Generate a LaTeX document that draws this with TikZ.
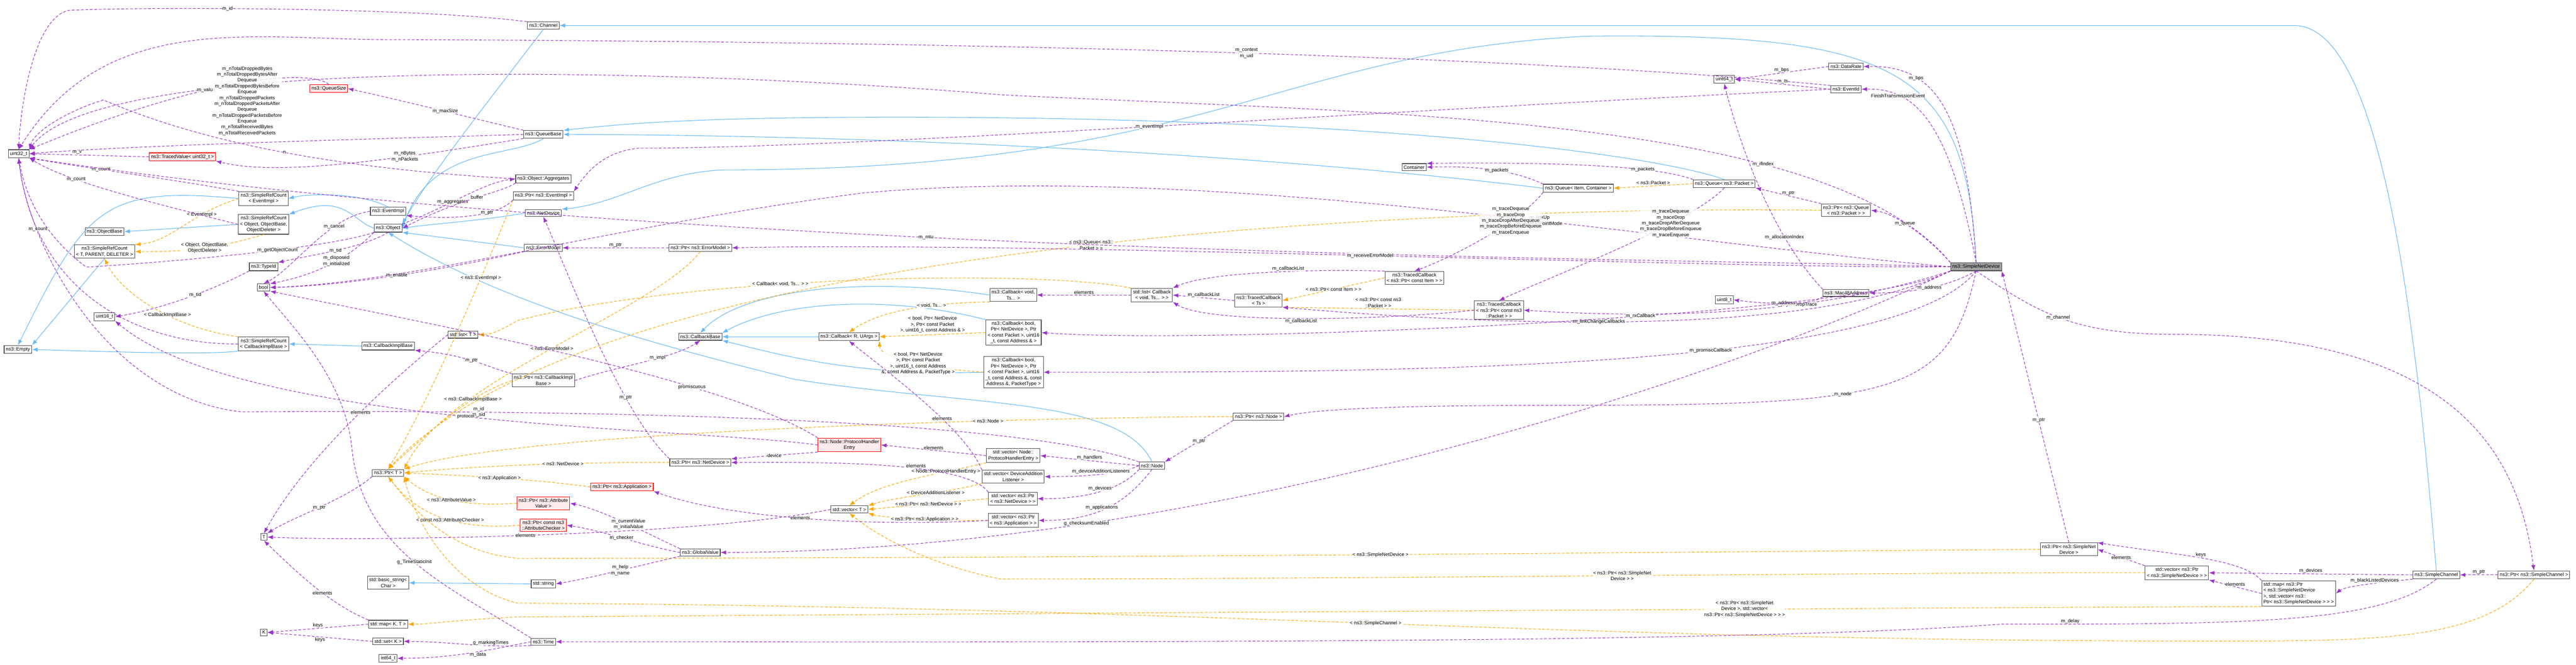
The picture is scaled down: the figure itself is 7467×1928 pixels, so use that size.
\documentclass[tikz,border=0pt]{standalone}
\usepackage{fontspec}
\setmainfont{Liberation Sans}
\usetikzlibrary{arrows.meta}
\definecolor{inhc}{HTML}{63B8FF}
\definecolor{memc}{HTML}{9A32CD}
\definecolor{tplc}{HTML}{FFA500}
\begin{document}
\begin{tikzpicture}[x=1pt,y=-1pt,
  box/.style={draw=gray!60!black,line width=1.6pt,fill=white,align=center,inner sep=5pt,font=\fontsize{14}{17}\selectfont},
  redbox/.style={box,draw=red,fill=red!8},
  mainbox/.style={box,fill=gray!75},
  lbl/.style={font=\fontsize{14}{17}\selectfont,align=center,fill=white,fill opacity=0.8,text opacity=1,inner sep=1pt},
  inh/.style={draw=inhc,line width=1.6pt,-{Latex[length=16pt,width=12pt]}},
  mem/.style={draw=memc,line width=1.6pt,dash pattern=on 8pt off 5pt,-{Latex[length=16pt,width=12pt]}},
  tpl/.style={draw=tplc,line width=1.6pt,dash pattern=on 8pt off 5pt,-{Latex[length=16pt,width=12pt]}}]
\useasboundingbox (0,0) rectangle (7467,1928);
% nodes
\node[box] (u32) at (54,446) {uint32\_t};
\node[redbox] (tv) at (529,455) {ns3::TracedValue< uint32\_t >};
\node[redbox] (qs) at (953,257) {ns3::QueueSize};
\node[box] (srcE) at (764,576) {ns3::SimpleRefCount\\< EventImpl >};
\node[box] (evimpl) at (1125,613) {ns3::EventImpl};
\node[box] (srcO) at (764,651) {ns3::SimpleRefCount\\< Object, ObjectBase,\\ObjectDeleter >};
\node[box] (objbase) at (303,672) {ns3::ObjectBase};
\node[box] (obj) at (1125,662) {ns3::Object};
\node[box] (srcT) at (303,730) {ns3::SimpleRefCount\\< T, PARENT, DELETER >};
\node[box] (typeid) at (764,774) {ns3::TypeId};
\node[box] (bool) at (764,834) {bool};
\node[box] (u16) at (303,919) {uint16\_t};
\node[box] (empty) at (52,1014) {ns3::Empty};
\node[box] (srcC) at (764,998) {ns3::SimpleRefCount\\< CallbackImplBase >};
\node[box] (cib) at (1125,1004) {ns3::CallbackImplBase};
\node[box] (ptrT) at (1125,1372) {ns3::Ptr< T >};
\node[box] (T) at (765,1558) {T};
\node[box] (bstr) at (1125,1691) {std::basic\_string<\\Char >};
\node[box] (mapKT) at (1125,1811) {std::map< K, T >};
\node[box] (K) at (765,1835) {K};
\node[box] (setK) at (1125,1861) {std::set< K >};
\node[box] (i64) at (1125,1910) {int64\_t};
\node[box] (chan) at (1575,74) {ns3::Channel};
\node[box] (qbase) at (1575,390) {ns3::QueueBase};
\node[box] (aggr) at (1575,519) {ns3::Object::Aggregates};
\node[box] (ptrEv) at (1575,568) {ns3::Ptr< ns3::EventImpl >};
\node[box] (netdev) at (1575,618) {ns3::NetDevice};
\node[box] (errm) at (1575,719) {ns3::ErrorModel};
\node[box] (ptrErr) at (2030,719) {ns3::Ptr< ns3::ErrorModel >};
\node[box] (listT) at (1342,971) {std::list< T >};
\node[box] (cbbase) at (2030,977) {ns3::CallbackBase};
\node[box] (cbRU) at (2461,977) {ns3::Callback< R, UArgs >};
\node[box] (ptrCib) at (1575,1104) {ns3::Ptr< ns3::CallbackImpl\\Base >};
\node[redbox] (phe) at (2462,1291) {ns3::Node::ProtocolHandler\\Entry};
\node[box] (ptrND) at (2030,1342) {ns3::Ptr< ns3::NetDevice >};
\node[redbox] (ptrApp) at (1803,1413) {ns3::Ptr< ns3::Application >};
\node[redbox] (ptrAV) at (1575,1460) {ns3::Ptr< ns3::Attribute\\Value >};
\node[redbox] (ptrAC) at (1575,1524) {ns3::Ptr< const ns3\\::AttributeChecker >};
\node[box] (vecT) at (2462,1478) {std::vector< T >};
\node[box] (gv) at (2030,1603) {ns3::GlobalValue};
\node[box] (str) at (1575,1694) {std::string};
\node[box] (time) at (1575,1862) {ns3::Time};
\node[box] (cbVoid) at (2937,856) {ns3::Callback< void,\\Ts... >};
\node[box] (cbB1) at (2938,965) {ns3::Callback< bool,\\Ptr< NetDevice >, Ptr\\< const Packet >, uint16\\\_t, const Address \& >};
\node[box] (cbB2) at (2938,1080) {ns3::Callback< bool,\\Ptr< NetDevice >, Ptr\\< const Packet >, uint16\\\_t, const Address \&, const\\Address \&, PacketType >};
\node[box] (vecPHE) at (2937,1322) {std::vector< Node::\\ProtocolHandlerEntry >};
\node[box] (vecDAL) at (2937,1383) {std::vector< DeviceAddition\\Listener >};
\node[box] (vecND) at (2936,1447) {std::vector< ns3::Ptr\\< ns3::NetDevice > >};
\node[box] (vecApp) at (2937,1510) {std::vector< ns3::Ptr\\< ns3::Application > >};
\node[box] (listCb) at (3339,856) {std::list< Callback\\< void, Ts... > >};
\node[box] (tcTs) at (3648,872) {ns3::TracedCallback\\< Ts >};
\node[box] (ptrNode) at (3648,1209) {ns3::Ptr< ns3::Node >};
\node[box] (node) at (3339,1351) {ns3::Node};
\node[box] (cont) at (4099,485) {Container};
\node[box] (tcItem) at (4100,806) {ns3::TracedCallback\\< ns3::Ptr< const Item > >};
\node[box] (tcPkt) at (4345,900) {ns3::TracedCallback\\< ns3::Ptr< const ns3\\::Packet > >};
\node[box] (queueIC) at (4575,546) {ns3::Queue< Item, Container >};
\node[box] (queuePkt) at (4998,533) {ns3::Queue< ns3::Packet >};
\node[box] (u64) at (4998,230) {uint64\_t};
\node[box] (u8) at (4998,870) {uint8\_t};
\node[box] (drate) at (5351,193) {ns3::DataRate};
\node[box] (evid) at (5351,259) {ns3::EventId};
\node[box] (ptrQ) at (5351,610) {ns3::Ptr< ns3::Queue\\< ns3::Packet > >};
\node[box] (mac) at (5351,850) {ns3::Mac48Address};
\node[mainbox] (snd) at (5728,774) {ns3::SimpleNetDevice};
\node[box] (ptrSND) at (5997,1594) {ns3::Ptr< ns3::SimpleNet\\Device >};
\node[box] (vecSND) at (6310,1662) {std::vector< ns3::Ptr\\< ns3::SimpleNetDevice > >};
\node[box,align=left] (mapSND) at (6663,1722) {std::map< ns3::Ptr\\< ns3::SimpleNetDevice\\ >, std::vector< ns3::\\Ptr< ns3::SimpleNetDevice > > >};
\node[box] (sch) at (7062,1668) {ns3::SimpleChannel};
\node[box] (ptrSch) at (7345,1668) {ns3::Ptr< ns3::SimpleChannel >};
% inheritance
\draw[inh] (srcE.west) .. controls (300,540) and (250,600) .. (empty.north);
\draw[inh] (evimpl.north) .. controls (1050,560) and (900,560) .. (srcE.east);
\draw[inh] (srcO.west) -- (objbase.east);
\draw[inh] (obj.west) .. controls (1020,640) and (1000,560) .. (srcO.north east);
\draw[inh] (srcT.south) -- (empty.north east);
\draw[inh] (srcC.south west) .. controls (600,1030) and (300,1020) .. (empty.east);
\draw[inh] (cib.west) -- (srcC.east);
\draw[inh] (chan.south) .. controls (1450,250) and (1250,500) .. (obj.north east);
\draw[inh] (qbase.south) .. controls (1480,460) and (1250,420) .. (obj.east);
\draw[inh] (netdev.west) .. controls (1400,640) and (1250,650) .. (obj.east);
\draw[inh] (errm.west) -- (obj.south east);
\draw[inh] (node.north) .. controls (3250,1150) and (2800,1180) .. (2300,1100) .. controls (1900,1000) and (1450,880) .. (obj.south);
\draw[inh] (sch.north) .. controls (7000,900) and (6900,74) .. (6650,74) -- (chan.east);
\draw[inh] (snd.north) .. controls (5700,200) and (5500,95) .. (4600,105) .. controls (3700,150) and (3500,493) .. (2100,493) .. controls (1900,500) and (1800,590) .. (netdev.north east);
\draw[inh] (queueIC.west) .. controls (3600,440) and (2500,392) .. (qbase.east);
\draw[inh] (queuePkt.north) .. controls (4800,450) and (4000,340) .. (2600,340) .. controls (2000,340) and (1800,360) .. (qbase.north east);
\draw[inh] (cbRU.west) -- (cbbase.east);
\draw[inh] (cbVoid.west) .. controls (2500,800) and (2150,840) .. (cbbase.north);
\draw[inh] (cbB1.north west) .. controls (2550,850) and (2250,880) .. (cbbase.north east);
\draw[inh] (cbB2.west) .. controls (2500,1090) and (2300,1040) .. (cbbase.south east);
\draw[inh] (str.west) -- (bstr.east);
% templates
\draw[tpl] (srcE.west) .. controls (550,620) and (500,700) .. node[lbl,pos=0.3]{< EventImpl >} (srcT.north east);
\draw[tpl] (srcO.south) .. controls (600,730) and (500,730) .. node[lbl,pos=0.4]{< Object, ObjectBase,\\ObjectDeleter >} (srcT.east);
\draw[tpl] (srcC.north west) .. controls (500,950) and (350,850) .. node[lbl,pos=0.4]{< CallbackImplBase >} (srcT.south);
\draw[tpl] (ptrEv.south west) .. controls (1400,800) and (1250,1150) .. node[lbl,pos=0.3]{< ns3::EventImpl >} (ptrT.north);
\draw[tpl] (ptrErr.south) .. controls (1900,900) and (1300,1100) .. node[lbl,pos=0.5]{< ns3::ErrorModel >} (ptrT.north east);
\draw[tpl] (ptrCib.west) .. controls (1350,1150) and (1250,1250) .. node[lbl,pos=0.3]{< ns3::CallbackImplBase >} (ptrT.north);
\draw[tpl] (ptrND.west) .. controls (1700,1340) and (1400,1350) .. node[lbl,pos=0.4]{< ns3::NetDevice >} (ptrT.east);
\draw[tpl] (ptrApp.west) .. controls (1550,1390) and (1350,1380) .. node[lbl,pos=0.5]{< ns3::Application >} (ptrT.east);
\draw[tpl] (ptrAV.west) .. controls (1350,1470) and (1250,1450) .. node[lbl,pos=0.5]{< ns3::AttributeValue >} (ptrT.south east);
\draw[tpl] (ptrAC.west) .. controls (1300,1540) and (1200,1480) .. node[lbl,pos=0.4]{< const ns3::AttributeChecker >} (ptrT.south);
\draw[tpl] (ptrNode.west) .. controls (3000,1210) and (1500,1250) .. node[lbl,pos=0.3]{< ns3::Node >} (ptrT.north east);
\draw[tpl] (ptrQ.west) .. controls (4500,600) and (1800,640) .. node[lbl,pos=0.5]{< ns3::Queue< ns3::\\Packet > >} (ptrT.north);
\draw[tpl] (ptrSND.west) .. controls (5000,1600) and (3200,1620) .. node[lbl,pos=0.5]{< ns3::SimpleNetDevice >} (1500,1620) .. controls (1300,1600) and (1200,1480) .. (ptrT.south);
\draw[tpl] (ptrSch.south) .. controls (7200,1860) and (6900,1860) .. (6400,1860) .. controls (4500,1860) and (3500,1760) .. node[lbl,pos=0.5]{< ns3::SimpleChannel >} (1500,1750) .. controls (1300,1700) and (1200,1500) .. (ptrT.south east);
\draw[tpl] (listCb.north west) .. controls (3000,780) and (2000,800) .. node[lbl,pos=0.6]{< Callback< void, Ts... > >} (1500,930) .. controls (1450,960) and (1420,971) .. (listT.east);
\draw[tpl] (cbVoid.south west) .. controls (2700,880) and (2550,900) .. node[lbl,pos=0.35]{< void, Ts... >} (cbRU.north);
\draw[tpl] (cbB1.west) -- node[lbl,pos=0.5,above=4pt]{< bool, Ptr< NetDevice\\>, Ptr< const Packet\\>, uint16\_t, const Address \& >} (cbRU.east);
\draw[tpl] (cbB2.west) .. controls (2700,1070) and (2550,1040) .. node[lbl,pos=0.45]{< bool, Ptr< NetDevice\\>, Ptr< const Packet\\>, uint16\_t, const Address\\\&, const Address \&, PacketType >} (cbRU.south east);
\draw[tpl] (vecPHE.south west) .. controls (2700,1380) and (2550,1400) .. node[lbl,pos=0.25]{< Node::ProtocolHandlerEntry >} (vecT.north);
\draw[tpl] (vecDAL.south west) .. controls (2750,1430) and (2600,1440) .. node[lbl,pos=0.4]{< DeviceAdditionListener >} (vecT.north east);
\draw[tpl] (vecND.west) -- node[lbl,pos=0.5]{< ns3::Ptr< ns3::NetDevice > >} (vecT.east);
\draw[tpl] (vecApp.west) .. controls (2700,1512) and (2550,1500) .. node[lbl,pos=0.4]{< ns3::Ptr< ns3::Application > >} (vecT.south east);
\draw[tpl] (vecSND.west) .. controls (5500,1660) and (4000,1680) .. node[lbl,pos=0.5]{< ns3::Ptr< ns3::SimpleNet\\Device > >} (2900,1680) .. controls (2700,1640) and (2550,1560) .. (vecT.south);
\draw[tpl] (mapSND.south west) .. controls (6300,1760) and (4500,1770) .. node[lbl,pos=0.5]{< ns3::Ptr< ns3::SimpleNet\\Device >, std::vector<\\ns3::Ptr< ns3::SimpleNetDevice > > >} (1500,1790) .. controls (1300,1800) and (1250,1811) .. (mapKT.east);
\draw[tpl] (tcItem.west) -- node[lbl,pos=0.5]{< ns3::Ptr< const Item > >} (tcTs.east);
\draw[tpl] (tcPkt.west) -- node[lbl,pos=0.5,above=2pt]{< ns3::Ptr< const ns3\\::Packet > >} (tcTs.south east);
\draw[tpl] (queuePkt.west) -- node[lbl,pos=0.5,above=2pt]{< ns3::Packet >} (queueIC.east);
% members
\draw[mem] (chan.north west) .. controls (1200,20) and (400,20) .. node[lbl,pos=0.6]{m\_id} (200,30) .. controls (100,50) and (60,300) .. (u32.north);
\draw[mem] (evid.north west) .. controls (4500,170) and (3000,120) .. node[lbl,pos=0.5]{m\_context\\m\_uid} (1100,115) .. controls (700,110) and (300,40) .. (u32.north);
\draw[mem] (snd.north west) .. controls (5300,330) and (4000,330) .. node[lbl,pos=0.3]{m\_ifIndex} (2900,275) .. controls (2000,200) and (300,150) .. (u32.north east);
\draw[mem] (qs.north) .. controls (900,200) and (600,220) .. node[lbl,pos=0.6]{m\_value} (u32.north east);
\draw[mem] (qbase.west) .. controls (1200,400) and (400,420) .. node[lbl,pos=0.55,above=20pt]{m\_nTotalDroppedBytes\\m\_nTotalDroppedBytesAfter\\Dequeue\\m\_nTotalDroppedBytesBefore\\Enqueue\\m\_nTotalDroppedPackets\\m\_nTotalDroppedPacketsAfter\\Dequeue\\m\_nTotalDroppedPacketsBefore\\Enqueue\\m\_nTotalReceivedBytes\\m\_nTotalReceivedPackets} (u32.east);
\draw[mem] (aggr.west) .. controls (1000,490) and (600,420) .. node[lbl,pos=0.5]{n} (300,290) .. controls (200,320) and (100,380) .. (u32.north east);
\draw[mem] (qbase.south west) .. controls (1100,470) and (800,510) .. node[lbl,pos=0.3]{m\_nBytes\\m\_nPackets} (tv.south east);
\draw[mem] (tv.west) -- node[lbl,pos=0.6,above]{m\_v} (u32.east);
\draw[mem] (srcE.north west) .. controls (500,520) and (200,480) .. node[lbl,pos=0.6]{m\_count} (u32.south east);
\draw[mem] (srcO.west) .. controls (450,590) and (200,530) .. node[lbl,pos=0.7]{m\_count} (u32.south east);
\draw[mem] (srcC.west) .. controls (400,1000) and (100,850) .. node[lbl,pos=0.8]{m\_count} (u32.south);
\draw[mem] (obj.south west) .. controls (950,720) and (500,760) .. node[lbl,pos=0.4]{m\_getObjectCount} (250,775) .. controls (150,700) and (80,600) .. (u32.south);
\draw[mem] (node.north west) .. controls (2900,1200) and (1500,1190) .. node[lbl,pos=0.75]{m\_id\\m\_sid} (700,1195) .. controls (300,1150) and (80,700) .. (u32.south);
\draw[mem] (snd.west) .. controls (5000,750) and (2000,750) .. node[lbl,pos=0.6]{m\_mtu} (u32.south east);
\draw[mem] (qbase.north west) .. controls (1400,350) and (1200,300) .. node[lbl,pos=0.5]{m\_maxSize} (qs.east);
\draw[mem] (typeid.south west) .. controls (600,850) and (450,900) .. node[lbl,pos=0.4]{m\_tid} (u16.east);
\draw[mem] (phe.west) .. controls (2000,1240) and (700,1240) .. node[lbl,pos=0.5]{protocol} (u16.south east);
\draw[mem] (obj.south west) .. controls (1000,760) and (900,800) .. node[lbl,pos=0.4]{m\_disposed\\m\_initialized} (bool.north east);
\draw[mem] (errm.south west) .. controls (1300,780) and (1000,830) .. node[lbl,pos=0.5]{m\_enable} (bool.east);
\draw[mem] (evimpl.west) .. controls (950,630) and (850,780) .. node[lbl,pos=0.3]{m\_cancel} (bool.north);
\draw[mem] (phe.north west) .. controls (2100,1100) and (1300,950) .. node[lbl,pos=0.3]{promiscuous} (bool.south east);
\draw[mem] (snd.west) .. controls (4800,700) and (3500,470) .. node[lbl,pos=0.4]{m\_linkUp\\m\_pointToPointMode} (2500,560) .. controls (1800,650) and (1200,820) .. (bool.east);
\draw[mem] (time.north west) .. controls (1300,1700) and (1050,1600) .. node[lbl,pos=0.5]{g\_TimeStaticInit} (1020,1300) .. controls (1000,1100) and (850,950) .. (bool.south);
\draw[mem] (obj.south) .. controls (1050,720) and (900,740) .. node[lbl,pos=0.5]{m\_tid} (typeid.north east);
\draw[mem] (obj.north east) .. controls (1300,600) and (1400,530) .. node[lbl,pos=0.4]{m\_aggregates} (aggr.west);
\draw[mem] (aggr.south west) .. controls (1450,560) and (1350,570) .. node[lbl,pos=0.5]{buffer} (obj.east);
\draw[mem] (ptrEv.south west) .. controls (1450,620) and (1350,640) .. node[lbl,pos=0.4]{m\_ptr} (evimpl.south east);
\draw[mem] (evid.west) .. controls (4000,320) and (2500,430) .. node[lbl,pos=0.5]{m\_eventImpl} (1850,430) .. controls (1750,440) and (1700,500) .. (ptrEv.north east);
\draw[mem] (ptrErr.west) -- node[lbl,pos=0.5,above]{m\_ptr} (errm.east);
\draw[mem] (ptrND.north west) .. controls (1800,1200) and (1650,800) .. node[lbl,pos=0.3]{m\_ptr} (netdev.south);
\draw[mem] (ptrCib.east) .. controls (1800,1060) and (1950,1040) .. node[lbl,pos=0.6]{m\_impl} (cbbase.south) ;
\draw[mem] (ptrCib.north west) .. controls (1400,1060) and (1350,1030) .. node[lbl,pos=0.5]{m\_ptr} (cib.south east);
\draw[mem] (ptrT.south west) .. controls (1000,1450) and (850,1500) .. node[lbl,pos=0.5]{m\_ptr} (T.north east);
\draw[mem] (vecT.west) .. controls (2000,1560) and (1000,1570) .. node[lbl,pos=0.5]{elements} (T.east);
\draw[mem] (listT.west) .. controls (1200,1050) and (900,1300) .. node[lbl,pos=0.5]{elements} (T.north);
\draw[mem] (mapKT.north west) .. controls (950,1750) and (850,1650) .. node[lbl,pos=0.4]{elements} (T.south);
\draw[mem] (mapKT.west) -- node[lbl,pos=0.5,above]{keys} (K.east);
\draw[mem] (setK.west) -- node[lbl,pos=0.5,below]{keys} (K.east);
\draw[mem] (time.south west) .. controls (1400,1880) and (1300,1861) .. node[lbl,pos=0.3,above]{g\_markingTimes} (setK.east);
\draw[mem] (time.west) .. controls (1400,1890) and (1300,1910) .. node[lbl,pos=0.4,below]{m\_data} (i64.east);
\draw[mem] (sch.south) .. controls (6900,1811) and (6500,1811) .. node[lbl,pos=0.9,above]{m\_delay} (5800,1811) .. controls (5000,1870) and (3000,1862) .. (time.east);
\draw[mem] (gv.north west) .. controls (1900,1560) and (1750,1480) .. node[lbl,pos=0.5]{m\_currentValue\\m\_initialValue} (ptrAV.east);
\draw[mem] (gv.west) .. controls (1850,1580) and (1750,1540) .. node[lbl,pos=0.5]{m\_checker} (ptrAC.east);
\draw[mem] (gv.south west) .. controls (1900,1630) and (1700,1680) .. node[lbl,pos=0.5]{m\_help\\m\_name} (str.east);
\draw[mem] (snd.south west) .. controls (5000,1100) and (3500,1600) .. node[lbl,pos=0.75]{g\_checksumEnabled} (gv.east);
\draw[mem] (listCb.west) -- node[lbl,pos=0.5,above]{elements} (cbVoid.east);
\draw[mem] (tcTs.west) -- node[lbl,pos=0.5,above]{m\_callbackList} (listCb.east);
\draw[mem] (tcItem.north west) .. controls (3800,780) and (3500,790) .. node[lbl,pos=0.4,above]{m\_callbackList} (listCb.north east);
\draw[mem] (tcPkt.west) .. controls (4000,930) and (3500,940) .. node[lbl,pos=0.5,below]{m\_callbackList} (listCb.south east);
\draw[mem] (queueIC.south west) .. controls (4400,650) and (4200,750) .. node[lbl,pos=0.3]{m\_traceDequeue\\m\_traceDrop\\m\_traceDropAfterDequeue\\m\_traceDropBeforeEnqueue\\m\_traceEnqueue} (tcItem.north);
\draw[mem] (queuePkt.south) .. controls (4900,650) and (4500,800) .. node[lbl,pos=0.3]{m\_traceDequeue\\m\_traceDrop\\m\_traceDropAfterDequeue\\m\_traceDropBeforeEnqueue\\m\_traceEnqueue} (tcPkt.north);
\draw[mem] (queueIC.north west) .. controls (4400,500) and (4300,480) .. node[lbl,pos=0.5]{m\_packets} (cont.east);
\draw[mem] (queuePkt.north west) .. controls (4800,480) and (4500,470) .. node[lbl,pos=0.3]{m\_packets} (cont.north east);
\draw[mem] (snd.south west) .. controls (5300,900) and (4900,930) .. node[lbl,pos=0.4]{m\_phyRxDropTrace} (tcPkt.east);
\draw[mem] (snd.south west) .. controls (5300,960) and (4500,960) .. node[lbl,pos=0.6]{m\_linkChangeCallbacks} (tcTs.south east);
\draw[mem] (drate.west) -- node[lbl,pos=0.5,above]{m\_bps} (u64.east);
\draw[mem] (evid.west) -- node[lbl,pos=0.5,above]{m\_ts} (u64.east);
\draw[mem] (mac.north west) .. controls (5150,700) and (5050,450) .. node[lbl,pos=0.3]{m\_allocationIndex} (u64.south);
\draw[mem] (snd.north) .. controls (5700,300) and (5600,190) .. node[lbl,pos=0.7]{m\_bps} (drate.east);
\draw[mem] (snd.north) .. controls (5650,350) and (5550,255) .. node[lbl,pos=0.75]{FinishTransmissionEvent} (evid.east);
\draw[mem] (snd.north west) .. controls (5600,700) and (5500,620) .. node[lbl,pos=0.6]{m\_queue} (ptrQ.east);
\draw[mem] (ptrQ.north west) -- node[lbl,pos=0.5,above]{m\_ptr} (queuePkt.south east);
\draw[mem] (snd.south) .. controls (5650,830) and (5550,850) .. node[lbl,pos=0.5]{m\_address} (mac.east);
\draw[mem] (mac.south west) .. controls (5250,890) and (5100,880) .. node[lbl,pos=0.5]{m\_address} (u8.east);
\draw[mem] (snd.west) .. controls (5000,780) and (3000,700) .. node[lbl,pos=0.5]{m\_receiveErrorModel} (ptrErr.east);
\draw[mem] (snd.south west) .. controls (5400,920) and (3500,1000) .. node[lbl,pos=0.4]{m\_rxCallback} (cbB1.east);
\draw[mem] (snd.south) .. controls (5500,1080) and (4000,1080) .. node[lbl,pos=0.4]{m\_promiscCallback} (cbB2.east);
\draw[mem] (snd.south) .. controls (5650,1150) and (5500,1176) .. node[lbl,pos=0.6]{m\_node} (4500,1176) .. controls (4000,1176) and (3800,1190) .. (ptrNode.east);
\draw[mem] (snd.south) .. controls (5900,900) and (6000,970) .. node[lbl,pos=0.5]{m\_channel} (6300,970) .. controls (7100,970) and (7300,1300) .. (ptrSch.north);
\draw[mem] (ptrSND.north) -- node[lbl,pos=0.45]{m\_ptr} (snd.south east);
\draw[mem] (vecSND.north west) -- node[lbl,pos=0.5]{elements} (ptrSND.east);
\draw[mem] (mapSND.north west) .. controls (6500,1620) and (6300,1610) .. node[lbl,pos=0.5,above]{keys} (ptrSND.north east);
\draw[mem] (mapSND.west) -- node[lbl,pos=0.5,above]{elements} (vecSND.south east);
\draw[mem] (sch.west) -- node[lbl,pos=0.5,above]{m\_devices} (vecSND.east);
\draw[mem] (sch.south west) .. controls (6900,1690) and (6800,1700) .. node[lbl,pos=0.4,above]{m\_blackListedDevices} (mapSND.east);
\draw[mem] (ptrSch.west) -- node[lbl,pos=0.5,above]{m\_ptr} (sch.east);
\draw[mem] (ptrNode.south west) -- node[lbl,pos=0.5]{m\_ptr} (node.north east);
\draw[mem] (node.west) -- node[lbl,pos=0.5,above]{m\_handlers} (vecPHE.east);
\draw[mem] (node.west) .. controls (3250,1375) and (3150,1383) .. node[lbl,pos=0.5,above]{m\_deviceAdditionListeners} (vecDAL.east);
\draw[mem] (node.south west) .. controls (3250,1420) and (3150,1447) .. node[lbl,pos=0.5,above]{m\_devices} (vecND.east);
\draw[mem] (node.south) .. controls (3250,1480) and (3150,1510) .. node[lbl,pos=0.5,above]{m\_applications} (vecApp.east);
\draw[mem] (vecPHE.west) -- node[lbl,pos=0.5,above]{elements} (phe.east);
\draw[mem] (vecND.north west) .. controls (2800,1340) and (2400,1340) .. node[lbl,pos=0.4,above]{elements} (ptrND.east);
\draw[mem] (vecApp.west) .. controls (2500,1530) and (2100,1500) .. node[lbl,pos=0.5]{elements} (ptrApp.south east);
\draw[mem] (vecDAL.north west) .. controls (2800,1250) and (2600,1100) .. node[lbl,pos=0.4]{elements} (cbRU.south);
\draw[mem] (phe.south west) -- node[lbl,pos=0.5]{device} (ptrND.north east);
\end{tikzpicture}
\end{document}
